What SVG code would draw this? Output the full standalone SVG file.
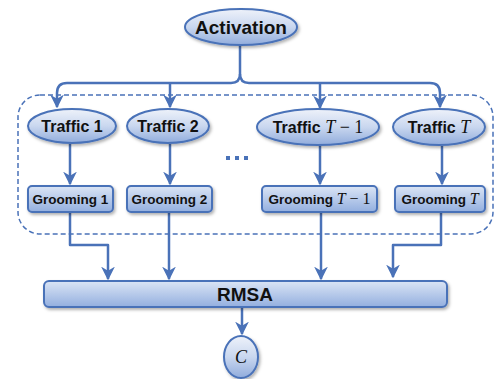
<svg xmlns="http://www.w3.org/2000/svg" width="498" height="379" viewBox="0 0 498 379">
<style>
.n{stroke:#4a72b8;stroke-width:2;filter:url(#sh)}
.el{fill:url(#ge)}
.bx{fill:url(#gb)}
.c{fill:none;stroke:#4a72b8;stroke-width:2.5;stroke-linejoin:round}
.t{font-family:"Liberation Sans",Arial,sans-serif;font-weight:bold;fill:#111;text-anchor:middle}
.m{font-family:"Liberation Serif","DejaVu Serif",serif;font-weight:normal}
.mi{font-style:italic}
.d{fill:#4a72b8}
</style>
<defs>
<linearGradient id="ge" x1="0" y1="0" x2="0" y2="1">
<stop offset="0" stop-color="#eef2fa"/>
<stop offset="0.5" stop-color="#c9d7ef"/>
<stop offset="1" stop-color="#91acdc"/>
</linearGradient>
<linearGradient id="gb" x1="0" y1="0" x2="0" y2="1">
<stop offset="0" stop-color="#dbe5f5"/>
<stop offset="1" stop-color="#93afdf"/>
</linearGradient>
<filter id="sh" x="-20%" y="-30%" width="140%" height="170%">
<feDropShadow dx="1.5" dy="2" stdDeviation="1.5" flood-color="#000" flood-opacity="0.3"/>
</filter>
<marker id="ar" viewBox="0 0 10 10" refX="9" refY="5" markerWidth="5.5" markerHeight="5.5" markerUnits="strokeWidth" orient="auto">
<path d="M0,0 L10,5 L0,10 L3,5 Z" fill="#4a72b8"/>
</marker>
</defs>

<rect x="18" y="95" width="475" height="139" rx="22" fill="none" stroke="#4a72b8" stroke-width="1.5" stroke-dasharray="5,3"/>

<g id="connectors">
<path class="c" d="M240,45 V74 Q240,83 231,83 H67 Q57,83 57,93 V107" marker-end="url(#ar)"/>
<path class="c" d="M240,74 Q240,83 249,83 H430 Q440,83 440,93 V107" marker-end="url(#ar)"/>
<path class="c" d="M170,83 V107" marker-end="url(#ar)"/>
<path class="c" d="M320,83 V108" marker-end="url(#ar)"/>
<path class="c" d="M70,144 V184" marker-end="url(#ar)"/>
<path class="c" d="M170,144 V184" marker-end="url(#ar)"/>
<path class="c" d="M320,146 V184" marker-end="url(#ar)"/>
<path class="c" d="M442,146 V184" marker-end="url(#ar)"/>
<path class="c" d="M70,212 V245 H108 V279" marker-end="url(#ar)"/>
<path class="c" d="M169,212 V279" marker-end="url(#ar)"/>
<path class="c" d="M321,212 V279" marker-end="url(#ar)"/>
<path class="c" d="M441,212 V245 H393 V277" marker-end="url(#ar)"/>
<path class="c" d="M242,308 V334" marker-end="url(#ar)"/>
</g>

<g id="activation">
<ellipse class="n el" cx="241" cy="27" rx="56" ry="18"/>
<text class="t" x="241" y="33.5" font-size="19">Activation</text>
</g>

<g id="traffic1">
<ellipse class="n el" cx="72" cy="126" rx="44" ry="17"/>
<text class="t" x="72" y="131.5" font-size="16">Traffic 1</text>
</g>
<g id="traffic2">
<ellipse class="n el" cx="168" cy="126" rx="41" ry="17"/>
<text class="t" x="168" y="131.5" font-size="16">Traffic 2</text>
</g>
<g id="trafficT1">
<ellipse class="n el" cx="318" cy="127" rx="61" ry="18"/>
<text class="t" x="318" y="132.5" font-size="16">Traffic <tspan class="m mi" font-size="18">T</tspan><tspan class="m" font-size="18"> − 1</tspan></text>
</g>
<g id="trafficT">
<ellipse class="n el" cx="439" cy="127" rx="46" ry="18"/>
<text class="t" x="439" y="132.5" font-size="16">Traffic <tspan class="m mi" font-size="18">T</tspan></text>
</g>

<g id="dots">
<rect class="d" x="226" y="156" width="4" height="4"/>
<rect class="d" x="235" y="156" width="4" height="4"/>
<rect class="d" x="244" y="156" width="4" height="4"/>
</g>

<g id="grooming1">
<rect class="n bx" x="28" y="186" width="85" height="26" rx="4"/>
<text class="t" x="70.5" y="204" font-size="13.5">Grooming 1</text>
</g>
<g id="grooming2">
<rect class="n bx" x="127" y="186" width="85" height="26" rx="4"/>
<text class="t" x="169.5" y="204" font-size="13.5">Grooming 2</text>
</g>
<g id="groomingT1">
<rect class="n bx" x="262" y="186" width="115" height="26" rx="4"/>
<text class="t" x="319.5" y="204" font-size="13.5">Grooming <tspan class="m mi" font-size="16">T</tspan><tspan class="m" font-size="16"> − 1</tspan></text>
</g>
<g id="groomingT">
<rect class="n bx" x="395" y="186" width="90" height="26" rx="4"/>
<text class="t" x="440" y="204" font-size="13.5">Grooming <tspan class="m mi" font-size="16">T</tspan></text>
</g>

<g id="rmsa">
<rect class="n bx" x="44" y="281" width="403" height="26" rx="5"/>
<text class="t" x="245" y="300.5" font-size="19">RMSA</text>
</g>

<g id="c">
<ellipse class="n el" cx="241" cy="357" rx="17" ry="21"/>
<text class="t m mi" x="241" y="363" font-size="18">C</text>
</g>
</svg>
